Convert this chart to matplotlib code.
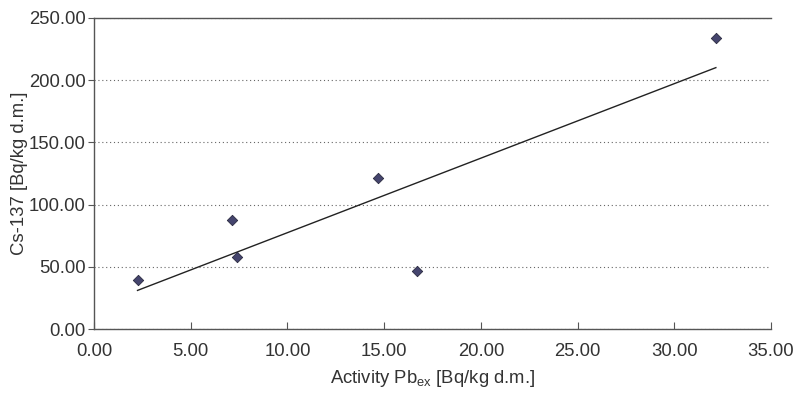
import numpy as np
import matplotlib
matplotlib.use("Agg")
import matplotlib.pyplot as plt
import matplotlib.ticker as mticker

# ── data ───────────────────────────────────────────────────────────────────────
pb_ex = [2.25, 7.15, 7.4, 14.7, 16.7, 32.15]
cs137 = [39.0, 87.5, 58.0, 121.0, 47.0, 234.0]

x_ticks = [0, 5, 10, 15, 20, 25, 30, 35]
y_ticks = [0, 50, 100, 150, 200, 250]

plt.rcParams["font.family"] = ["Liberation Sans", "DejaVu Sans"]
plt.rcParams["mathtext.fontset"] = "custom"
plt.rcParams["mathtext.rm"] = "Liberation Sans"

TEXT = "#333333"
FS = 13.3

fig = plt.figure(figsize=(7.96, 3.94), dpi=100)
ax = fig.add_axes([94 / 796, 1 - 329 / 394, (771 - 94) / 796, (329 - 18) / 394])

# linear trend line over the data range
slope, intercept = np.polyfit(pb_ex, cs137, 1)
xs = np.array([min(pb_ex), max(pb_ex)])
ax.plot(xs, slope * xs + intercept, color="#222222", lw=1.0, zorder=2)

ax.scatter(pb_ex, cs137, marker="D", s=28, color="#45456e",
           edgecolors="#2a2a40", linewidths=0.6, zorder=3)

ax.set_xlim(0, 35)
ax.set_ylim(0, 250)
ax.set_xticks(x_ticks)
ax.set_yticks(y_ticks)
fmt = mticker.FuncFormatter(lambda v, _: f"{v:.2f}")
ax.xaxis.set_major_formatter(fmt)
ax.yaxis.set_major_formatter(fmt)

ax.yaxis.grid(True, ls=(0, (1, 2.5)), color="#666666", lw=0.8)
ax.set_axisbelow(True)

ax.spines["right"].set_visible(False)
for s in ["left", "bottom", "top"]:
    ax.spines[s].set_color("#555555")
    ax.spines[s].set_linewidth(1.0)

ax.tick_params(axis="x", direction="in", length=5, color="#555555",
               labelsize=FS, labelcolor=TEXT, pad=10)
ax.tick_params(axis="y", direction="out", length=4, color="#555555",
               labelsize=FS, labelcolor=TEXT, pad=2)

ax.set_xlabel(r"Activity Pb$_{\mathrm{ex}}$ [Bq/kg d.m.]", fontsize=FS,
              color=TEXT, labelpad=6)
ax.set_ylabel("Cs-137 [Bq/kg d.m.]", fontsize=FS, color=TEXT)
ax.yaxis.set_label_coords(-0.098, 0.5)

fig.savefig("out.png", dpi=100)
